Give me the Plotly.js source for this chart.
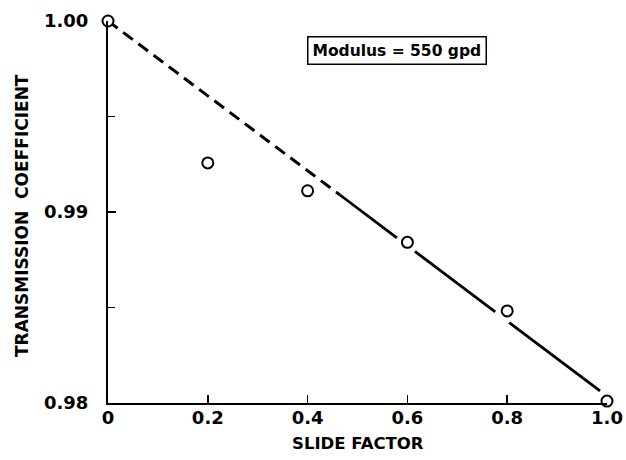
<!DOCTYPE html>
<html>
<head>
<meta charset="utf-8">
<script src="https://cdn.plot.ly/plotly-3.0.1.min.js"></script>
<style>html,body{margin:0;padding:0;background:#fff;}#chart{width:626px;height:460px;}</style>
</head>
<body>
<div id="chart"></div>
<script>
// Measured points
const slideFactor = [0, 0.2, 0.4, 0.6, 0.8, 1.0];
const transCoeff = [1.000, 0.99257, 0.99111, 0.98841, 0.98482, 0.98010];

// Drawn trend line: dashed part, then solid part broken at the circles
const dashX = [0, 0.465];
const dashY = [1.000, 0.99089];
const solidX = [0.465, 0.579, null, 0.615, 0.776, null, 0.804, 0.986];
const solidY = [0.99089, 0.98864, null, 0.98794, 0.98477, null, 0.98421, 0.98063];

const xTickVals = [0, 0.2, 0.4, 0.6, 0.8, 1.0];
const xTickText = ['0', '0.2', '0.4', '0.6', '0.8', '1.0'];
const yTickVals = [0.98, 0.99, 1.00];
const yTickText = ['0.98', '0.99', '1.00'];
const yMinorVals = [0.985, 0.995];

const fam = 'DejaVu Sans, Liberation Sans, sans-serif';
const tickFont = {family: fam, size: 18, weight: 'bold', color: '#000'};
const titleFont = {family: fam, size: 16.5, weight: 'bold', color: '#000'};

const traces = [
  {x: dashX, y: dashY, mode: 'lines', line: {color: '#000', width: 3, dash: '12px,7px'}, hoverinfo: 'skip', cliponaxis: false},
  {x: solidX, y: solidY, mode: 'lines', connectgaps: false, line: {color: '#000', width: 2.8}, hoverinfo: 'skip', cliponaxis: false},
  {x: slideFactor, y: transCoeff, mode: 'markers', cliponaxis: false,
   marker: {symbol: 'circle', size: 11, color: '#fff', line: {color: '#000', width: 2}}}
];

const layout = {
  width: 626, height: 460,
  margin: {l: 108, r: 19, t: 21, b: 57},
  paper_bgcolor: '#fff', plot_bgcolor: '#fff',
  showlegend: false,
  xaxis: {
    range: [0, 1], tickvals: xTickVals, ticktext: xTickText,
    ticks: 'inside', ticklen: 8, tickwidth: 1.5, tickcolor: '#000',
    showline: true, linewidth: 2, linecolor: '#000', showgrid: false, zeroline: false,
    tickfont: tickFont, ticklabelstandoff: -3,
    automargin: false
  },
  yaxis: {
    range: [0.98, 1.0], tickvals: yTickVals, ticktext: yTickText,
    ticks: 'inside', ticklen: 8, tickwidth: 1.5, tickcolor: '#000',
    minor: {tickvals: yMinorVals, ticks: 'inside', ticklen: 7, tickwidth: 1.5, tickcolor: '#000'},
    showline: true, linewidth: 2, linecolor: '#000', showgrid: false, zeroline: false,
    tickfont: tickFont, ticklabelstandoff: 14,
    automargin: false
  },
  annotations: [
    {
      x: 0.579, y: 0.99848, xref: 'x', yref: 'y',
      text: 'Modulus = 550 gpd', showarrow: false,
      font: {family: fam, size: 15.5, weight: 'bold', color: '#000'},
      bordercolor: '#000', borderwidth: 1.5, borderpad: 4, bgcolor: '#fff'
    },
    {
      x: 0.5, y: 0, xref: 'paper', yref: 'paper', xanchor: 'center', yanchor: 'middle',
      yshift: -40, text: 'SLIDE FACTOR', showarrow: false, font: titleFont
    },
    {
      x: 0, y: 0.5, xref: 'paper', yref: 'paper', xanchor: 'center', yanchor: 'middle',
      xshift: -86, yshift: -4, textangle: -90,
      text: 'TRANSMISSION  COEFFICIENT', showarrow: false,
      font: {family: fam, size: 17, weight: 'bold', color: '#000'}
    }
  ]
};

Plotly.newPlot('chart', traces, layout, {displayModeBar: false, staticPlot: true});
</script>
</body>
</html>
